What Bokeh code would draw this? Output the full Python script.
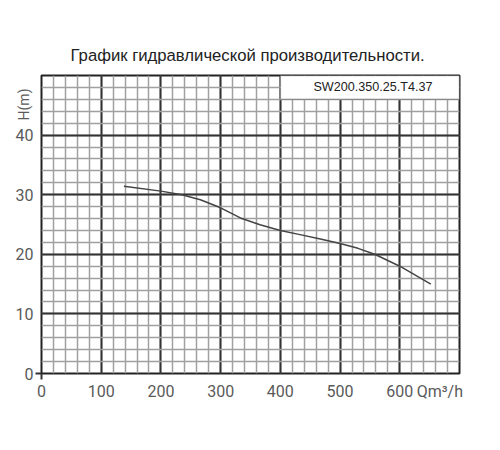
import math
from bokeh.plotting import figure
from bokeh.models import (LinearAxis, FixedTicker, Grid, BoxAnnotation, Label, Range1d, Title)
from bokeh.embed import file_html
from bokeh.resources import INLINE

# ---- data ----
flow = [138, 200, 235, 266, 300, 333, 366, 400, 433, 467, 500, 530, 558, 600, 652]
head = [31.4, 30.6, 30.0, 29.15, 27.8, 26.1, 24.95, 24.0, 23.3, 22.55, 21.8, 21.0, 20.0, 18.0, 15.0]

x_major = [0, 100, 200, 300, 400, 500, 600, 700]
x_minor = list(range(0, 701, 20))
y_major = [0, 10, 20, 30, 40, 50]
y_minor = list(range(0, 51, 2))
x_tick_labels = [0, 100, 200, 300, 400, 500, 600]
y_tick_labels = [0, 10, 20, 30, 40]

title_text = "График гидравлической производительности."
model_name = "SW200.350.25.T4.37"
x_unit = "Qm³/h"
x_unit_pos = 667
y_unit = "H(m)"

LABEL_FONT = "Roboto"
TEXT_FONT = "Liberation Sans"
LABEL_COLOR = "#5a5a5a"

p = figure(frame_width=418, frame_height=298,
           x_range=Range1d(0, 700), y_range=Range1d(0, 50),
           x_axis_type=None, y_axis_type=None,
           output_backend="svg", toolbar_location=None,
           min_border_left=41, min_border_right=25,
           min_border_top=75, min_border_bottom=61,
           background_fill_color="white", border_fill_color="white")

p.outline_line_color = "#222222"
p.outline_line_width = 2

p.title.text = title_text
p.title.align = "left"
p.title.offset = 29
p.title.text_font = TEXT_FONT
p.title.text_font_size = "16.7px"
p.title.text_font_style = "normal"
p.title.text_color = "#222222"
p.title.standoff = 21

# grids
xg = Grid(dimension=0, ticker=FixedTicker(ticks=x_major, minor_ticks=x_minor),
          grid_line_color="#333333", grid_line_width=2,
          minor_grid_line_color="#a0a0a0", minor_grid_line_width=1.5)
yg = Grid(dimension=1, ticker=FixedTicker(ticks=y_major, minor_ticks=y_minor),
          grid_line_color="#333333", grid_line_width=2,
          minor_grid_line_color="#a0a0a0", minor_grid_line_width=1.5)
p.add_layout(xg)
p.add_layout(yg)

# origin tick stubs (nearest the frame)
for place in ("below", "left"):
    ax = LinearAxis(ticker=FixedTicker(ticks=[0], minor_ticks=[]),
                    axis_line_color=None, major_tick_out=6, major_tick_in=0,
                    major_tick_line_color="#333333", major_tick_line_width=2,
                    minor_tick_line_color=None,
                    major_label_overrides={0: ""}, major_label_standoff=0,
                    major_label_text_font_size="1px")
    p.add_layout(ax, place)

xa = LinearAxis(ticker=FixedTicker(ticks=x_tick_labels + [x_unit_pos], minor_ticks=[]),
                major_label_overrides={x_unit_pos: x_unit},
                axis_line_color=None, major_tick_line_color=None,
                minor_tick_line_color=None, major_label_standoff=-4,
                major_label_text_font=LABEL_FONT,
                major_label_text_font_size="16px",
                major_label_text_color=LABEL_COLOR)
ya = LinearAxis(ticker=FixedTicker(ticks=y_tick_labels, minor_ticks=[]),
                axis_line_color=None, major_tick_line_color=None,
                minor_tick_line_color=None, major_label_standoff=-4,
                major_label_text_font=LABEL_FONT,
                major_label_text_font_size="16px",
                major_label_text_color=LABEL_COLOR)
p.add_layout(xa, "below")
p.add_layout(ya, "left")

# vertical unit label as a side title at the top of the left panel
p.add_layout(Title(text=y_unit, align="right", offset=13, standoff=-38,
                   text_font=LABEL_FONT, text_font_size="14px",
                   text_font_style="normal", text_color=LABEL_COLOR), "left")

# curve
p.line(flow, head, line_color="#444444", line_width=1.5)

# model name box
box_left, box_right, box_bottom, box_top = 400, 700, 46, 50
p.add_layout(BoxAnnotation(left=box_left, right=box_right, bottom=box_bottom, top=box_top,
                           fill_color="white", fill_alpha=1.0,
                           line_color="#222222", line_width=1.5, level="overlay"))
p.add_layout(Label(x=(box_left + box_right) / 2, y=(box_bottom + box_top) / 2, x_offset=3,
                   text=model_name, text_align="center", text_baseline="middle",
                   text_font=TEXT_FONT, text_font_size="12.6px", text_color="#222222",
                   level="overlay"))

open("out.html", "w").write(file_html(p, INLINE))
